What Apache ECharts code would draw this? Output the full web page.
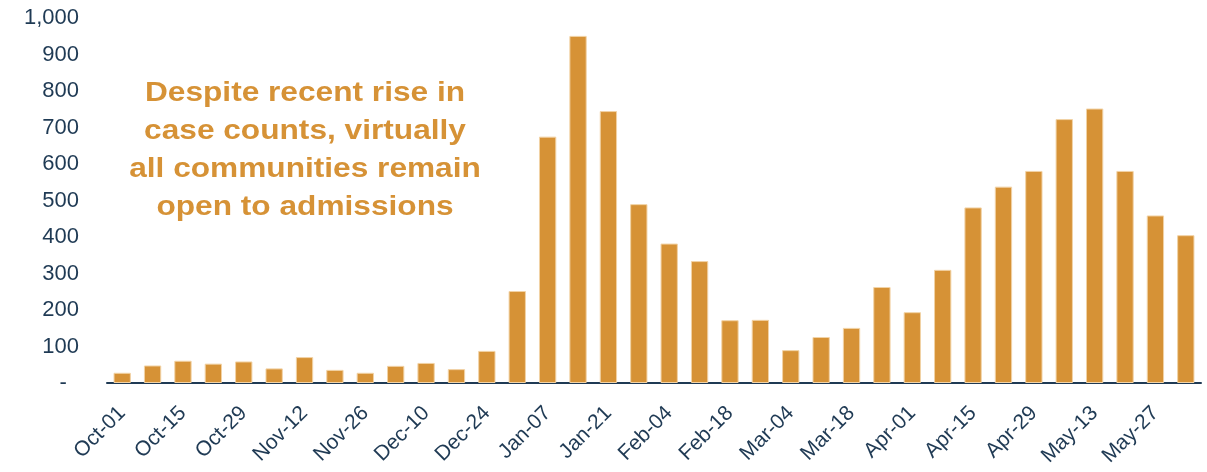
<!DOCTYPE html>
<html>
<head>
<meta charset="utf-8">
<script src="https://cdn.jsdelivr.net/npm/echarts@6/dist/echarts.min.js"></script>
<style>
  html, body { margin: 0; padding: 0; background: #fff; }
  #main { width: 1207px; height: 472px; }
</style>
</head>
<body>
<div id="main"></div>
<script>
const weeks = [
  "Oct-01", "Oct-08", "Oct-15", "Oct-22", "Oct-29", "Nov-05", "Nov-12", "Nov-19", "Nov-26",
  "Dec-03", "Dec-10", "Dec-17", "Dec-24", "Dec-31", "Jan-07", "Jan-14", "Jan-21", "Jan-28",
  "Feb-04", "Feb-11", "Feb-18", "Feb-25", "Mar-04", "Mar-11", "Mar-18", "Mar-25", "Apr-01",
  "Apr-08", "Apr-15", "Apr-22", "Apr-29", "May-06", "May-13", "May-20", "May-27", "Jun-03"
];
const cases = [
  28, 48, 61, 53, 59, 40, 71, 36, 28,
  47, 55, 38, 88, 252, 675, 951, 745, 490,
  382, 334, 172, 173, 90, 126, 151, 263, 194,
  310, 481, 538, 581, 723, 752, 581, 459, 405
];
const yTicks = [0, 100, 200, 300, 400, 500, 600, 700, 800, 900, 1000];
const noteLines = [
  "Despite recent rise in",
  "case counts, virtually",
  "all communities remain",
  "open to admissions"
];

const orange = "#D69236";
const navy = "#1F3A54";
const font = "Liberation Sans, Arial, sans-serif";

const chart = echarts.init(document.getElementById("main"));

chart.setOption({
  animation: false,
  grid: { left: 107, right: 6, top: 18, bottom: 89 },
  xAxis: {
    type: "category",
    data: weeks,
    axisLine: { lineStyle: { color: navy, width: 2 } },
    axisTick: { show: false },
    axisLabel: {
      interval: 1,
      rotate: 45,
      color: navy,
      fontFamily: font,
      fontSize: 21,
      margin: 27
    }
  },
  yAxis: {
    type: "value",
    min: 0,
    max: yTicks[yTicks.length - 1],
    interval: 100,
    axisLine: { show: false },
    axisTick: { show: false },
    splitLine: { show: false },
    axisLabel: {
      color: navy,
      fontFamily: font,
      fontSize: 22,
      margin: 28,
      formatter: (v) => (v === 0 ? "-  " : v.toLocaleString("en-US"))
    }
  },
  graphic: [
    {
      type: "text",
      x: 305,
      y: 150,
      scaleX: 1.13,
      style: {
        text: noteLines.join("\n"),
        align: "center",
        verticalAlign: "middle",
        fill: orange,
        font: "bold 28px " + font,
        lineHeight: 38
      }
    }
  ],
  series: [
    {
      type: "bar",
      data: cases,
      barWidth: "57%",
      itemStyle: {
        color: orange,
        borderColor: "#F2D3A6",
        borderWidth: 1
      }
    }
  ]
});
</script>
</body>
</html>
